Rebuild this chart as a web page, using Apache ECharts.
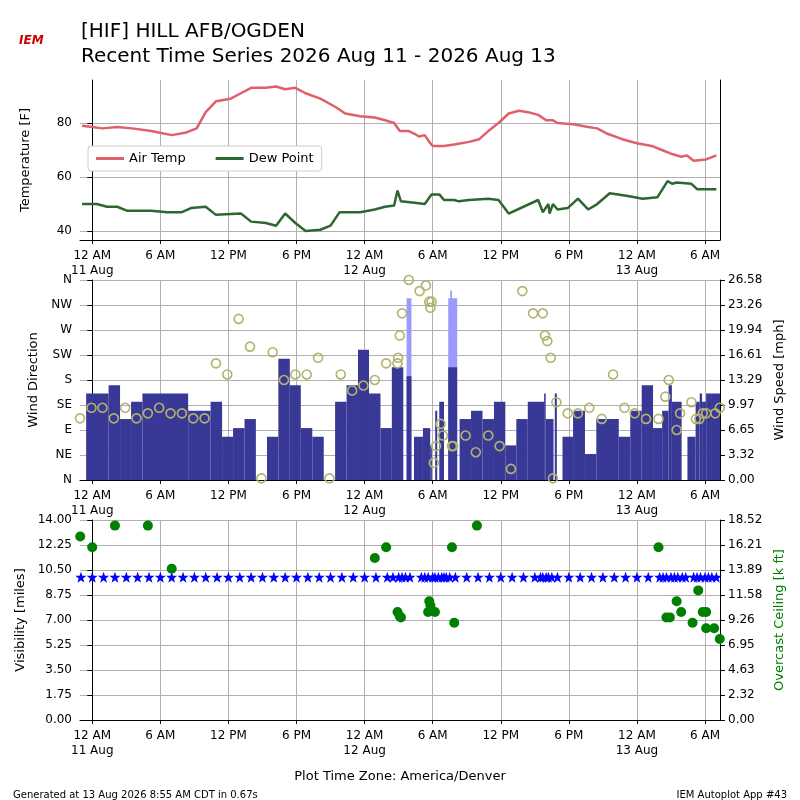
<!DOCTYPE html>
<html><head><meta charset="utf-8">
<script src="https://cdn.jsdelivr.net/npm/echarts@6/dist/echarts.min.js"></script>
<style>html,body{margin:0;padding:0;background:#fff}#c{width:800px;height:800px}</style>
</head><body><div id="c"></div>
<script>
// hours since 2026-08-11 00:00 America/Denver
const tempTimes=[-0.9,0,0.9,2.2,3.5,5.2,7,8.3,9.2,10,10.9,12.2,13.1,14,15.3,16.2,17,17.9,18.8,20.1,21.4,22.3,23.6,24.9,25.8,26.6,27.1,27.9,28.4,28.8,29.3,29.7,30,31,31.9,33.2,34.1,34.9,35.8,36.7,37.6,38.4,39.3,40,40.6,41,42.4,43.7,44.5,45.4,46.7,48,49.3,50.2,51.1,51.9,52.4,53,54.1,55];
const tempVals=[79,78.5,78,78.5,78,77,75.5,76.5,78,84,88,89,91,93,93,93.5,92.5,93,91,89,86,83.5,82.5,82,81,80,77,77,76,75,75.5,73,71.5,71.5,72,73,74,77,80,83.5,84.5,84,83,81,81,80,79.5,78.5,78,76,74,72.5,71.5,70,68.5,67.5,68,66,66.5,68];
const dewTimes=[-0.9,0.4,1.3,2.2,3.1,5.2,6.6,7.9,8.7,10,10.9,13.1,14,15.3,16.2,17,17.9,18.8,20.1,21,21.8,23.6,24.9,25.8,26.6,26.9,27.2,28.4,29.3,29.9,30.6,31,31.9,32.3,33.2,34.9,35.8,36.7,38,39.3,39.7,40.2,40.3,40.6,41,41.9,42.8,43.7,44.5,45.6,47.2,48.5,49.8,50.7,51.1,51.5,52.8,53.3,55];
const dewVals=[50,50,49,49,47.5,47.5,47,47,48.5,49,46,46.5,43.5,43,42,46.5,43,40,40.5,42,47,47,48,49,49.5,55,51,50.5,50,53.5,53.5,51.5,51.5,51,51.5,52,51.5,46.5,49,51.5,47,50,46.5,50,48,48.5,52,48,50,54,53,52,52.5,58.5,57.5,58,57.5,55.5,55.5];
const windStart=[-0.54,1.44,2.45,3.42,4.42,8.45,10.43,11.44,12.41,13.42,14.42,15.4,16.4,17.41,18.38,19.39,20.4,21.4,22.41,23.42,24.39,25.4,26.4,27.41,27.7,28.13,28.35,29.14,29.78,29.93,30.22,30.4,30.58,31.0,31.37,32.16,32.37,33.38,34.39,35.4,36.4,37.37,38.38,39.82,39.96,40.65,40.76,40.94,41.44,42.37,43.42,44.42,46.4,47.41,48.42,49.42,50.22,50.79,51.08,51.94,52.45,53.17,53.53,53.74,54.1,54.53];
const windSpeed=[11.5,12.6,8.1,10.4,11.5,9.2,10.4,5.75,6.9,8.1,0,5.75,16.1,12.6,6.9,5.75,0,10.4,12.6,17.3,11.5,6.9,15,0,13.8,0,5.75,6.9,4.6,0,9.2,0,10.4,0,15,0,8.1,9.2,8.1,10.4,4.6,8.1,10.4,11.5,8.1,0,11.5,0,5.75,9.2,3.45,8.1,5.75,9.2,12.6,6.9,9.2,12.6,10.4,0,5.75,10.4,11.5,10.4,11.5,11.5];
const windEnd=55.32;
const gustStart=[27.7,31.37,31.55];
const gustEnd=[28.13,32.16,31.7];
const gustSpeed=[24.15,24.15,25.2];
const dirTimes=[-1.08,-0.07,0.9,1.9,2.9,3.9,4.9,5.9,6.9,7.9,8.9,9.9,10.9,11.9,12.9,13.9,14.9,15.9,16.9,17.9,18.9,19.9,20.9,21.9,22.9,23.9,24.9,25.9,26.9,26.95,27.1,27.3,27.9,28.85,29.4,29.7,29.9,29.8,30.1,30.3,30.7,30.9,31.7,31.8,32.9,33.8,34.9,35.9,36.9,37.9,38.85,39.7,39.9,40.1,40.4,40.6,40.9,41.9,42.8,43.8,44.9,45.9,46.9,47.8,48.8,49.9,50.5,50.8,51.5,51.8,52.8,53.2,53.5,53.8,54.1,54.9,55.3];
const dirVals=[111,130,130,111,130,111,120,130,120,120,111,111,210,190,290,240,3,230,180,190,190,220,3,190,161,170,180,210,210,220,260,300,360,340,350,321,321,310,31,61,101,80,61,61,80,50,80,61,20,340,300,300,260,250,220,3,140,120,120,130,110,190,130,120,110,110,150,180,90,120,140,110,110,120,120,120,130];
const visTimes=[-1,0,1,2,3,4,5,6,7,8,9,10,11,12,13,14,15,16,17,18,19,20,21,22,23,24,25,26,26.5,27,27.3,27.6,28,29,29.3,29.6,30,30.2,30.5,30.8,31,31.2,31.5,32,33,34,35,36,37,38,39,39.5,39.7,40,40.2,40.5,41,42,43,44,45,46,47,48,49,50,50.3,50.6,51,51.3,51.6,52,52.3,53,53.3,53.6,54,54.3,54.6,55];
const visVals=[10,10,10,10,10,10,10,10,10,10,10,10,10,10,10,10,10,10,10,10,10,10,10,10,10,10,10,10,10,10,10,10,10,10,10,10,10,10,10,10,10,10,10,10,10,10,10,10,10,10,10,10,10,10,10,10,10,10,10,10,10,10,10,10,10,10,10,10,10,10,10,10,10,10,10,10,10,10,10,10];
const ceilTimes=[-1.06,0,2.0,4.9,7.0,24.9,25.9,26.9,27.1,27.2,29.7,29.8,29.6,30.2,31.7,31.9,33.9,49.9,50.6,50.9,51.5,51.9,52.9,53.4,53.8,54.1,54.1,54.8,55.3];
const ceilVals=[17.0,16.0,18.0,18.0,14.0,15.0,16.0,10.0,9.6,9.5,11.0,10.6,10.0,10.0,16.0,9.0,18.0,16.0,9.5,9.5,11.0,10.0,9.0,12.0,10.0,10.0,8.5,8.5,7.5];
const tickHours=[0,6,12,18,24,30,36,42,48,54];
const tickLabels=['12 AM\n11 Aug','6 AM','12 PM','6 PM','12 AM\n12 Aug','6 AM','12 PM','6 PM','12 AM\n13 Aug','6 AM'];
const dirLabels=['N','NE','E','SE','S','SW','W','NW','N'];
const speedLabels=['0.00','3.32','6.65','9.97','13.29','16.61','19.94','23.26','26.58'];
const ceilLabels=['0.00','2.32','4.63','6.95','9.26','11.58','13.89','16.21','18.52'];

const zip=(a,b)=>a.map((t,i)=>[t,b[i]]);
const bars=[];
windStart.forEach((s,i)=>{const e=i<windStart.length-1?windStart[i+1]:windEnd;if(windSpeed[i]>0)bars.push([s,e,windSpeed[i]]);});
const gusts=gustStart.map((s,i)=>[s,gustEnd[i],gustSpeed[i]]);
const XMIN=-1.08,XMAX=55.32;
const F='DejaVu Sans';
function xa(idx){return {type:'value',gridIndex:idx,min:XMIN,max:XMAX,
 axisLine:{onZero:false,lineStyle:{color:'#000'}},
 axisTick:{customValues:tickHours,length:4,lineStyle:{color:'#000'}},
 axisLabel:{customValues:tickHours,color:'#000',fontFamily:F,fontSize:12,lineHeight:15,formatter:v=>{const i=tickHours.indexOf(v);return i>=0?tickLabels[i]:'';}},
 splitLine:{show:true,lineStyle:{color:'#b0b0b0'}}};}
const boxed={show:true,lineStyle:{color:'#000'}};
const chart=echarts.init(document.getElementById('c'));
function rect(color){return function(params,api){const p0=api.coord([api.value(0),0]);const p1=api.coord([api.value(1),api.value(2)]);return {type:'rect',shape:{x:p0[0],y:p1[1],width:p1[0]-p0[0],height:p0[1]-p1[1]},style:{fill:color}};};}
chart.setOption({
 animation:false,
 title:[{text:'[HIF] HILL AFB/OGDEN\nRecent Time Series 2026 Aug 11 - 2026 Aug 13',left:76,top:14,textStyle:{fontFamily:F,fontSize:20,fontWeight:'normal',color:'#000',lineHeight:25}},
  {text:'Plot Time Zone: America/Denver',left:'center',top:765,textStyle:{fontFamily:F,fontSize:13,fontWeight:'normal',color:'#000'}},
  {text:'Generated at 13 Aug 2026 8:55 AM CDT in 0.67s',left:8,top:785,textStyle:{fontFamily:F,fontSize:10,fontWeight:'normal',color:'#000'}},
  {text:'IEM Autoplot App #43',right:8,top:785,textStyle:{fontFamily:F,fontSize:10,fontWeight:'normal',color:'#000'}},
  {text:'IEM',left:14,top:30,textStyle:{fontFamily:F,fontSize:12,fontStyle:'italic',color:'#c00'}}],
 legend:{data:['Air Temp','Dew Point'],left:88,top:146,orient:'horizontal',itemWidth:28,itemHeight:3,itemGap:30,borderColor:'#ccc',borderWidth:1,borderRadius:3,padding:[6,8],backgroundColor:'#fff',textStyle:{fontFamily:F,fontSize:13,color:'#000'},icon:'rect'},
 grid:[{left:80,right:80,top:80,height:160},{left:80,right:80,top:280,height:200},{left:80,right:80,top:520,height:200}],
 xAxis:[xa(0),xa(1),xa(2)],
 yAxis:[
  {type:'value',gridIndex:0,min:36.7,max:95.9,axisLine:boxed,axisTick:{customValues:[40,60,80]},axisLabel:{customValues:[40,60,80],color:'#000',fontFamily:F,fontSize:12},splitLine:{show:true,lineStyle:{color:'#b0b0b0'}},name:'Temperature [F]',nameLocation:'middle',nameGap:48,nameTextStyle:{fontFamily:F,fontSize:13,color:'#000'}},
  {type:'value',gridIndex:0,position:'right',min:36.7,max:95.9,axisLine:boxed,axisTick:{show:false},axisLabel:{show:false},splitLine:{show:false}},
  {type:'value',gridIndex:1,min:0,max:360,interval:45,axisLine:boxed,axisLabel:{color:'#000',fontFamily:F,fontSize:12,formatter:v=>dirLabels[Math.round(v/45)]},splitLine:{show:true,lineStyle:{color:'#b0b0b0'}},name:'Wind Direction',nameLocation:'middle',nameGap:36,nameTextStyle:{fontFamily:F,fontSize:13,color:'#000'}},
  {type:'value',gridIndex:1,position:'right',min:0,max:26.58,interval:26.58/8,axisLine:boxed,axisLabel:{color:'#000',fontFamily:F,fontSize:12,formatter:v=>speedLabels[Math.round(v/(26.58/8))]},splitLine:{show:false},name:'Wind Speed [mph]',nameLocation:'middle',nameGap:50,nameRotate:90,nameTextStyle:{fontFamily:F,fontSize:13,color:'#000'}},
  {type:'value',gridIndex:2,min:0,max:14,interval:1.75,axisLine:boxed,axisLabel:{color:'#000',fontFamily:F,fontSize:12,formatter:v=>v.toFixed(2)},splitLine:{show:true,lineStyle:{color:'#b0b0b0'}},name:'Visibility [miles]',nameLocation:'middle',nameGap:50,nameTextStyle:{fontFamily:F,fontSize:13,color:'#000'}},
  {type:'value',gridIndex:2,position:'right',min:0,max:18.52,interval:18.52/8,axisLine:boxed,axisLabel:{color:'#000',fontFamily:F,fontSize:12,formatter:v=>ceilLabels[Math.round(v/(18.52/8))]},splitLine:{show:false},name:'Overcast Ceiling [k ft]',nameLocation:'middle',nameGap:50,nameRotate:90,nameTextStyle:{fontFamily:F,fontSize:13,color:'#008000'}}
 ],
 series:[
  {name:'Air Temp',type:'line',xAxisIndex:0,yAxisIndex:0,data:zip(tempTimes,tempVals),showSymbol:false,lineStyle:{color:'#e0606a',width:2.5},itemStyle:{color:'#e0606a'}},
  {name:'Dew Point',type:'line',xAxisIndex:0,yAxisIndex:0,data:zip(dewTimes,dewVals),showSymbol:false,lineStyle:{color:'#2e6630',width:2.5},itemStyle:{color:'#2e6630'}},
  {type:'custom',xAxisIndex:1,yAxisIndex:3,data:gusts,renderItem:rect('#9b9bfb'),encode:{x:[0,1],y:2}},
  {type:'custom',xAxisIndex:1,yAxisIndex:3,data:bars,renderItem:rect('#383896'),encode:{x:[0,1],y:2}},
  {type:'scatter',xAxisIndex:1,yAxisIndex:2,data:zip(dirTimes,dirVals),symbol:'circle',symbolSize:9,itemStyle:{opacity:1,color:'rgba(0,0,0,0)',borderColor:'#b3b36e',borderWidth:1.6},z:5},
  {type:'scatter',xAxisIndex:2,yAxisIndex:4,data:zip(visTimes,visVals),symbol:'path://M0,-10L2.35,-3.24L9.51,-3.09L3.8,1.24L5.88,8.09L0,4L-5.88,8.09L-3.8,1.24L-9.51,-3.09L-2.35,-3.24Z',symbolSize:11,itemStyle:{opacity:1,color:'#0000ff'}},
  {type:'scatter',xAxisIndex:2,yAxisIndex:5,data:zip(ceilTimes,ceilVals),symbolSize:10,itemStyle:{opacity:1,color:'#008000'}}
 ]
});
</script></body></html>
